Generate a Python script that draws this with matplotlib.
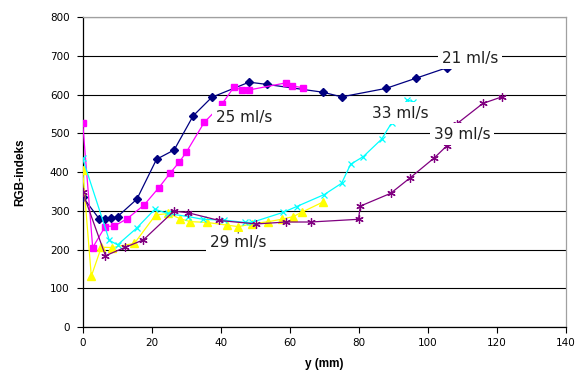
import matplotlib
matplotlib.use("Agg")
import matplotlib.pyplot as plt

# ---- data ----
x21 = [0, 4.8, 6.5, 8.2, 10.1, 15.7, 21.4, 26.5, 32, 37.4, 48.2, 53.5, 69.6, 75, 87.9, 96.5, 105.4]
v21 = [336, 279, 278, 281, 285, 330, 433, 457, 545, 593, 632, 626, 606, 594, 616, 642, 669]

x25 = [0, 2.9, 6.5, 9.2, 12.8, 17.8, 22.1, 25.4, 28.0, 30.0, 35.2, 40.3, 43.8, 46.1, 48.3, 58.8, 60.6, 63.9]
v25 = [527, 205, 259, 261, 279, 315, 360, 398, 426, 451, 528, 575, 619, 612, 612, 630, 623, 617]

x29 = [0, 2.5, 5.4, 8.5, 15, 21.1, 24.8, 28.1, 31.1, 35.9, 41.8, 45.1, 49, 53.8, 57.6, 61, 63.4, 69.7]
v29 = [405, 131, 206, 205, 216, 289, 293, 280, 272, 270, 263, 259, 266, 272, 278, 285, 296, 323]

x33 = [0, 7.7, 10.1, 15.6, 20.9, 24.6, 30.6, 34.8, 40.9, 47, 49, 58.1, 62, 70, 75, 77.6, 81.3, 86.6, 89.5, 94, 95.8]
v33 = [435, 224, 212, 255, 304, 293, 285, 278, 276, 270, 270, 296, 311, 342, 371, 420, 440, 485, 527, 586, 581]

x39 = [0, 6.6, 12.4, 17.6, 26.4, 30.5, 39.5, 50.3, 59, 66, 79.9, 80.4, 89.2, 94.7, 101.9, 105.4, 108.3, 115.9, 121.4]
v39 = [348, 184, 206, 225, 299, 295, 275, 266, 271, 271, 278, 312, 345, 384, 437, 467, 524, 577, 594]

labels = ["21 ml/s", "25 ml/s", "29 ml/s", "33 ml/s", "39 ml/s"]
label_pos = [(112.2, 694), (46.7, 542), (45.0, 217), (91.9, 552), (109.9, 497)]
xticks = [0, 20, 40, 60, 80, 100, 120, 140]
yticks = [0, 100, 200, 300, 400, 500, 600, 700, 800]

# ---- figure ----
fig = plt.figure(figsize=(5.81, 3.71), dpi=100)
ax = fig.add_axes([0.1423, 0.1186, 0.9742 - 0.1423, 0.954 - 0.1186])

ax.plot(x21, v21, color="#000080", lw=0.9, marker="D", ms=4.2, zorder=3)
ax.plot(x25, v25, color="#FF00FF", lw=0.9, marker="s", ms=5, zorder=3)
ax.plot(x29, v29, color="#FFFF00", lw=0.9, marker="^", ms=6, zorder=3)
ax.plot(x33, v33, color="#00FFFF", lw=0.9, marker="x", ms=5, mew=0.9, zorder=3)
ax.plot(x39, v39, color="#800080", lw=0.9, marker=(6, 2, 0), ms=6, mew=0.9, zorder=3)

for lab, (lx, ly) in zip(labels, label_pos):
    ax.text(lx, ly, lab, ha="center", va="center", fontsize=11,
            family="DejaVu Sans", color="#202020", zorder=5,
            bbox=dict(facecolor="white", edgecolor="none", pad=2.5))

# leader for 29 ml/s
ax.annotate("", xy=(x29[11], v29[11] - 8), xytext=(45.0, 235),
            arrowprops=dict(arrowstyle="-", color="black", lw=0.7), zorder=5)

ax.set_xlim(0, 140)
ax.set_ylim(0, 800)
ax.set_xticks(xticks)
ax.set_yticks(yticks)
ax.tick_params(axis="both", labelsize=7.5, length=4, width=0.8, direction="out")
ax.tick_params(axis="y", pad=5.5)
ax.tick_params(axis="x", pad=4)
for t in ax.get_xticklabels() + ax.get_yticklabels():
    t.set_family("DejaVu Sans")

ax.yaxis.grid(True, color="black", lw=0.8)
ax.set_axisbelow(True)
ax.spines["left"].set_color("black")
ax.spines["bottom"].set_color("black")
ax.spines["top"].set_color("#A0A0A0")
ax.spines["right"].set_color("#A0A0A0")
for s in ax.spines.values():
    s.set_linewidth(0.9)

ax.set_xlabel("y (mm)", fontsize=8.5, fontweight="bold", family=["Liberation Sans", "DejaVu Sans"], labelpad=7)
ax.set_ylabel("RGB-indeks", fontsize=8.5, fontweight="bold",
              family=["Liberation Sans Narrow", "Liberation Sans", "DejaVu Sans"], labelpad=17)

fig.savefig("out.png", dpi=100)
